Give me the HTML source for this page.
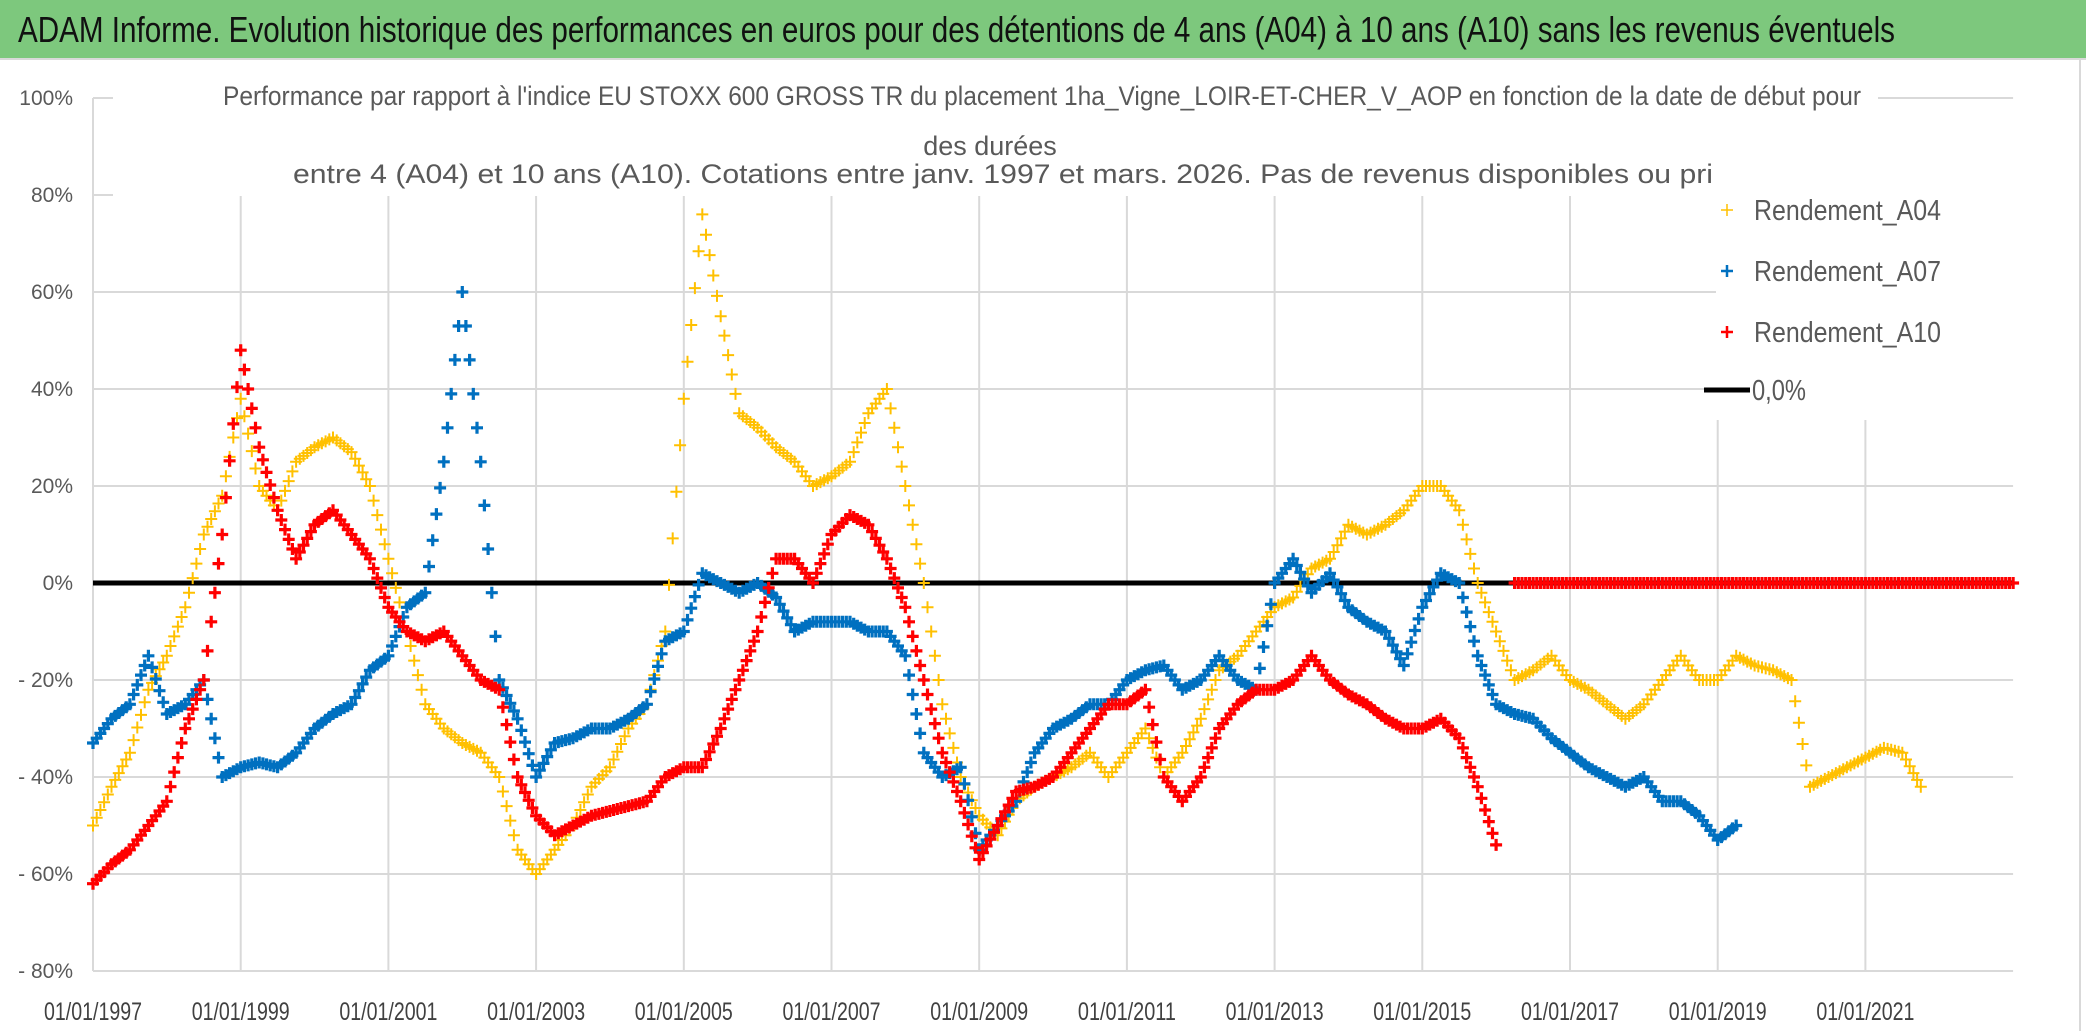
<!DOCTYPE html>
<html><head><meta charset="utf-8">
<style>
html,body{margin:0;padding:0;background:#fff;}
svg{display:block;}
text{font-family:"Liberation Sans Narrow","Liberation Sans",sans-serif;}
</style></head>
<body>
<svg id="chart" width="2086" height="1031" viewBox="0 0 2086 1031" xmlns="http://www.w3.org/2000/svg">
  <rect x="0" y="0" width="2086" height="1031" fill="#fff"/>
  <rect x="0" y="0" width="2086" height="58" fill="#7DC87D"/>
  <line x1="0" y1="59" x2="2086" y2="59" stroke="#d9d9d9" stroke-width="2"/>
  <text x="18" y="42" font-size="36" fill="#111" textLength="1877" lengthAdjust="spacingAndGlyphs">ADAM Informe. Evolution historique des performances en euros pour des détentions de 4 ans (A04) à 10 ans (A10) sans les revenus éventuels</text>
  <line x1="2080" y1="59" x2="2080" y2="1031" stroke="#d9d9d9" stroke-width="2"/>
  <g id="grid"></g>
  <rect x="113" y="70" width="1765" height="126" fill="#fff"/>
  <text x="223" y="105" font-size="27" fill="#595959" textLength="1638" lengthAdjust="spacingAndGlyphs">Performance par rapport à l'indice EU STOXX 600 GROSS TR  du placement 1ha_Vigne_LOIR-ET-CHER_V_AOP en fonction de la date de début pour</text>
  <text x="990" y="155" font-size="27" fill="#595959" text-anchor="middle">des durées</text>
  <text x="293" y="183" font-size="27" fill="#595959" textLength="1420" lengthAdjust="spacingAndGlyphs">entre 4 (A04) et 10 ans (A10). Cotations entre janv. 1997 et mars. 2026. Pas de revenus disponibles ou pri</text>
  <g id="yticks"></g>
  <g id="xticks"></g>
  <line id="zeroline" stroke="#000" stroke-width="5"/>
  <g id="marks"></g>
  <rect x="1716" y="190" width="299" height="230" fill="#fff"/>
  <g>
    <g>
      <path d="M1721 210h12M1727 204v12" stroke="#FFC000" stroke-width="1.5"/>
      <text x="1754" y="220" font-size="29" fill="#595959" textLength="187" lengthAdjust="spacingAndGlyphs">Rendement_A04</text>
    </g>
    <g>
      <path d="M1721 271h12M1727 265v12" stroke="#0070C0" stroke-width="2.5"/>
      <text x="1754" y="281" font-size="29" fill="#595959" textLength="187" lengthAdjust="spacingAndGlyphs">Rendement_A07</text>
    </g>
    <g>
      <path d="M1721 332h12M1727 326v12" stroke="#FF0000" stroke-width="2.5"/>
      <text x="1754" y="342" font-size="29" fill="#595959" textLength="187" lengthAdjust="spacingAndGlyphs">Rendement_A10</text>
    </g>
    <g>
      <line x1="1704" y1="390" x2="1750" y2="390" stroke="#000" stroke-width="5"/>
      <text x="1752" y="400" font-size="29" fill="#595959" textLength="54" lengthAdjust="spacingAndGlyphs">0,0%</text>
    </g>
  </g>
</svg>
<script>
const yTickValues = [100, 80, 60, 40, 20, 0, -20, -40, -60, -80];
const yTickLabels = ["100%", "80%", "60%", "40%", "20%", "0%", "- 20%", "- 40%", "- 60%", "- 80%"];
const xTickYears = [1997, 1999, 2001, 2003, 2005, 2007, 2009, 2011, 2013, 2015, 2017, 2019, 2021];
const xTickLabels = ["01/01/1997","01/01/1999","01/01/2001","01/01/2003","01/01/2005","01/01/2007","01/01/2009","01/01/2011","01/01/2013","01/01/2015","01/01/2017","01/01/2019","01/01/2021"];
const seriesStart = 1997;
const seriesStep = 0.25;
const a04Values = [
 -50,-42,-35,-22, -15,-5,10,18, 38,20,15,25, 28,30,27,20, 5,-10,-25,-30,
 -33,-35,-40,-55, -60,-55,-50,-42, -38,-30,-25,-10, 38,76,55,35, 32,28,25,20,
 22,25,35,40, 20,0,-25,-40, -48,-52,-45,-42, -40,-38,-35,-40, -35,-30,-40,-35,
 -28,-18,-15,-10, -5,-3,3,5, 12,10,12,15, 20,20,15,0, -10,-20,-18,-15,
 -20,-22,-25,-28, -25,-20,-15,-20, -20,-15,-17,-18, -20,-42,-40,-38, -36,-34,-35,-42];
const a07Values = [
 -33,-28,-25,-15, -27,-25,-20,-40, -38,-37,-38,-35, -30,-27,-25,-18, -15,-5,-2,25,
 60,25,-20,-28, -40,-33,-32,-30, -30,-28,-25,-12, -10,2,0,-2, 0,-3,-10,-8,
 -8,-8,-10,-10, -15,-35,-40,-38, -55,-50,-45,-35, -30,-28,-25,-25, -20,-18,-17,-22,
 -20,-15,-20,-22, 0,5,-2,2, -5,-8,-10,-17, -5,2,0,-15, -25,-27,-28,-32,
 -35,-38,-40,-42, -40,-45,-45,-48, -53,-50];
const a10Values = [
 -62,-58,-55,-50, -45,-30,-20,10, 48,28,15,5, 12,15,10,5, -5,-10,-12,-10,
 -15,-20,-22,-40, -48,-52,-50,-48, -47,-46,-45,-40, -38,-38,-30,-20, -10,5,5,0,
 10,14,12,5, -5,-20,-35,-45, -57,-50,-43,-42, -40,-35,-30,-25, -25,-22,-40,-45,
 -40,-30,-25,-22, -22,-20,-15,-20, -23,-25,-28,-30, -30,-28,-32,-42, -54];
const a10ZeroValues = [0,0,0,0,0,0,0,0,0,0,0,0,0,0,0,0,0,0,0,0,0,0,0,0,0,0,0,0];
const a10ZeroStart = 2016.25;

const X0 = 93, PX_PER_YEAR = 73.85, Y0 = 583, PX_PER_PCT = 4.85;
function xScale(year){ return X0 + (year - 1997) * PX_PER_YEAR; }
function yScale(v){ return Y0 - v * PX_PER_PCT; }
const NS = "http://www.w3.org/2000/svg";
const grid = document.getElementById('grid');
const xEnd = xScale(2023);

yTickValues.forEach((v, i) => {
  const l = document.createElementNS(NS, 'line');
  l.setAttribute('x1', X0); l.setAttribute('x2', xEnd);
  l.setAttribute('y1', yScale(v)); l.setAttribute('y2', yScale(v));
  l.setAttribute('stroke', '#d9d9d9'); l.setAttribute('stroke-width', '2');
  
  
  grid.appendChild(l);
  const t = document.createElementNS(NS, 'text');
  t.setAttribute('x', 73);
  t.setAttribute('y', yScale(v) + 7);
  t.setAttribute('text-anchor', 'end');
  t.setAttribute('font-size', '21');
  t.setAttribute('fill', '#595959');
  t.textContent = yTickLabels[i];
  
  
  document.getElementById('yticks').appendChild(t);
});
xTickYears.forEach((yr, i) => {
  const l = document.createElementNS(NS, 'line');
  l.setAttribute('x1', xScale(yr)); l.setAttribute('x2', xScale(yr));
  l.setAttribute('y1', yScale(100)); l.setAttribute('y2', yScale(-80));
  l.setAttribute('stroke', '#d9d9d9'); l.setAttribute('stroke-width', '2');
  
  
  grid.appendChild(l);
  const t = document.createElementNS(NS, 'text');
  t.setAttribute('x', xScale(yr) - 49);
  t.setAttribute('y', 1020);
  t.setAttribute('font-size', '25');
  t.setAttribute('fill', '#404040');
  t.setAttribute('textLength', '98');
  t.setAttribute('lengthAdjust', 'spacingAndGlyphs');
  t.textContent = xTickLabels[i];
  
  
  document.getElementById('xticks').appendChild(t);
});
const zl = document.getElementById('zeroline');
zl.setAttribute('x1', X0); zl.setAttribute('x2', xEnd);
zl.setAttribute('y1', yScale(0)); zl.setAttribute('y2', yScale(0));

const marks = document.getElementById('marks');
function drawSeries(values, start, color, width, name){
  const g = document.createElementNS(NS, 'g');
  
  
  let d = '';
  const sub = 5, h = 6;
  for (let i = 0; i < values.length; i++){
    const yr = start + i * seriesStep;
    const parts = (i < values.length - 1) ? sub : 1;
    for (let k = 0; k < parts; k++){
      const f = k / sub;
      const v = (i < values.length - 1) ? values[i] + (values[i+1] - values[i]) * f : values[i];
      const x = xScale(yr + f * seriesStep), y = yScale(v);
      d += `M${(x-h).toFixed(1)} ${y.toFixed(1)}h${2*h}M${x.toFixed(1)} ${(y-h).toFixed(1)}v${2*h}`;
    }
  }
  const p = document.createElementNS(NS, 'path');
  p.setAttribute('d', d);
  p.setAttribute('stroke', color);
  p.setAttribute('stroke-width', width);
  p.setAttribute('fill', 'none');
  
  
  g.appendChild(p);
  marks.appendChild(g);
}
drawSeries(a04Values, seriesStart, '#FFC000', 2, 'series-a04');
drawSeries(a07Values, seriesStart, '#0070C0', 3.2, 'series-a07');
drawSeries(a10Values, seriesStart, '#FF0000', 3.2, 'series-a10');
drawSeries(a10ZeroValues, a10ZeroStart, '#FF0000', 3.2, 'series-a10-zero');
</script>
</body></html>
